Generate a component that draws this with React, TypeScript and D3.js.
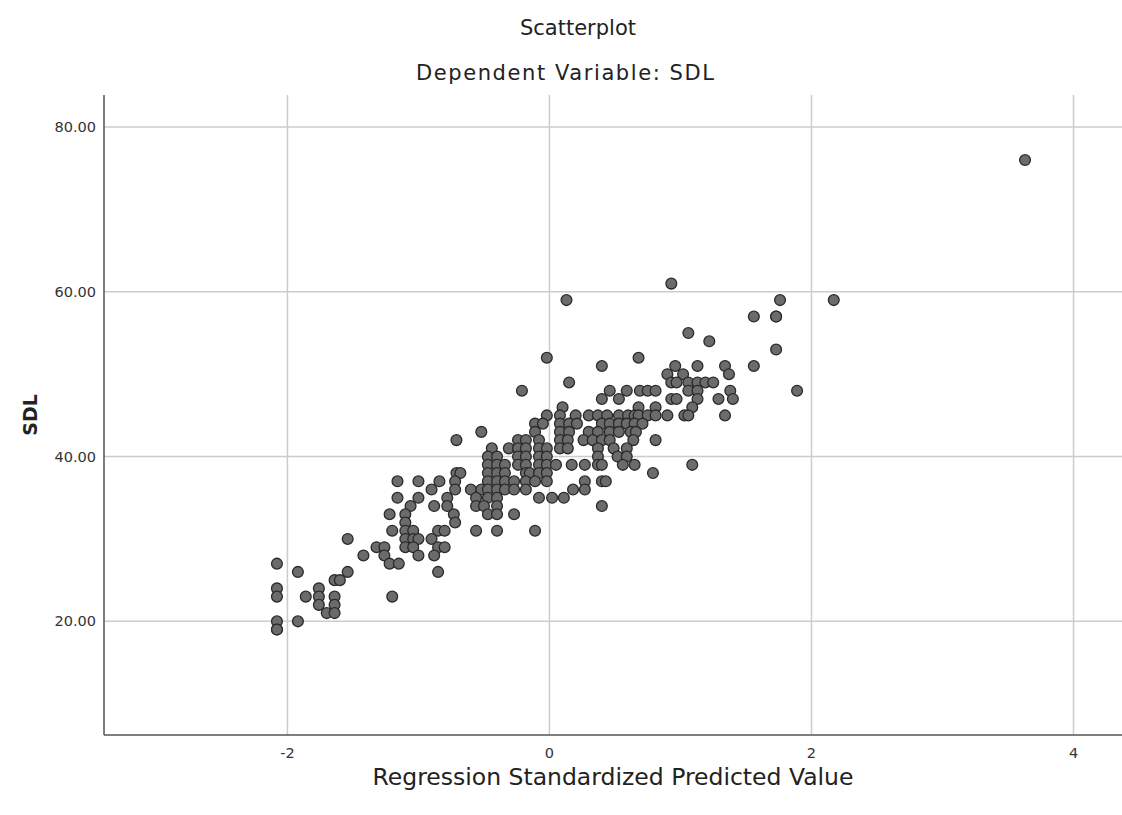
import { useEffect } from 'react';
import * as d3 from 'd3';

const sdlLevels = [76, 61, 59, 57, 55, 54, 53, 52, 51, 50, 49, 48, 47, 46, 45, 44, 43, 42, 41, 40,
  39, 38, 37, 36, 35, 34, 33, 32, 31, 30, 29, 28, 27, 26, 25, 24, 23, 22, 21, 20, 19];

const predictedAtLevel = [
  [3.63],
  [0.93],
  [0.13, 1.76, 2.17],
  [1.56, 1.73, 1.73],
  [1.06],
  [1.22],
  [1.73],
  [-0.02, 0.68],
  [0.40, 0.96, 1.13, 1.34, 1.56],
  [0.90, 1.02, 1.37],
  [0.15, 0.93, 0.97, 1.06, 1.13, 1.19, 1.25],
  [-0.21, 0.46, 0.59, 0.69, 0.75, 0.81, 1.06, 1.13, 1.38, 1.89],
  [0.40, 0.53, 0.93, 0.97, 1.13, 1.29, 1.40],
  [0.10, 0.68, 0.81, 1.09],
  [-0.02, 0.08, 0.20, 0.30, 0.37, 0.44, 0.53, 0.60, 0.65, 0.68, 0.75, 0.81, 0.90, 1.03, 1.06, 1.34],
  [-0.11, -0.05, 0.08, 0.15, 0.21, 0.40, 0.46, 0.53, 0.59, 0.65, 0.71],
  [-0.52, -0.11, 0.08, 0.15, 0.30, 0.37, 0.46, 0.53, 0.62, 0.66],
  [-0.71, -0.24, -0.18, -0.08, 0.08, 0.14, 0.26, 0.33, 0.40, 0.46, 0.64, 0.81],
  [-0.44, -0.31, -0.24, -0.18, -0.08, -0.02, 0.08, 0.14, 0.37, 0.49, 0.59],
  [-0.47, -0.40, -0.24, -0.18, -0.08, -0.02, 0.37, 0.52, 0.59],
  [-0.47, -0.40, -0.34, -0.24, -0.18, -0.08, -0.02, 0.05, 0.17, 0.27, 0.37, 0.40, 0.56, 0.65, 1.09],
  [-0.71, -0.68, -0.47, -0.40, -0.34, -0.18, -0.15, -0.08, -0.02, 0.79],
  [-1.16, -1.00, -0.84, -0.72, -0.47, -0.40, -0.34, -0.27, -0.18, -0.11, -0.02, 0.27, 0.40, 0.43],
  [-0.90, -0.72, -0.60, -0.52, -0.47, -0.40, -0.34, -0.27, -0.18, 0.18, 0.27],
  [-1.16, -1.00, -0.78, -0.56, -0.47, -0.40, -0.08, 0.02, 0.11],
  [-1.06, -0.88, -0.78, -0.56, -0.50, -0.40, 0.40],
  [-1.22, -1.10, -0.73, -0.47, -0.40, -0.27],
  [-1.10, -0.72],
  [-1.20, -1.10, -1.04, -0.85, -0.80, -0.56, -0.40, -0.11],
  [-1.54, -1.10, -1.04, -1.00, -0.90],
  [-1.32, -1.26, -1.10, -1.04, -0.85, -0.80],
  [-1.42, -1.26, -1.00, -0.88],
  [-2.08, -1.22, -1.15],
  [-1.92, -1.54, -0.85],
  [-1.64, -1.60],
  [-2.08, -1.76],
  [-2.08, -1.86, -1.76, -1.64, -1.20],
  [-1.76, -1.64],
  [-1.70, -1.64],
  [-2.08, -1.92],
  [-2.08, -2.08],
];

const xTicks = [-2, 0, 2, 4];
const yTicks = [20, 40, 60, 80];

const W = 1122;
const H = 815;
const FONT = '"DejaVu Sans", sans-serif';

export default function App() {
  useEffect(() => {
    document.body.style.margin = '0';
  }, []);

  const margin = { left: 104, right: 0, top: 95, bottom: 80 };

  const x = d3.scaleLinear().domain([-3.4, 4.37]).range([margin.left, W - margin.right]);
  const y = d3.scaleLinear().domain([6.2, 83.9]).range([H - margin.bottom, margin.top]);

  const points = sdlLevels.flatMap((s, i) => predictedAtLevel[i].map(p => ({ p, s })));

  const [x0, x1] = x.range();
  const [yb, yt] = y.range();

  return (
    <svg width={W} height={H} style={{ display: 'block', background: '#fff' }}>
      {/* titles */}
      <text x={578} y={35} textAnchor="middle" fontFamily={FONT} fontSize={21} fill="#222">Scatterplot</text>
      <text x={565} y={80} textAnchor="middle" fontFamily={FONT} fontSize={21} fill="#222"
        textLength={298} lengthAdjust="spacing">Dependent Variable: SDL</text>

      {/* grid */}
      <g stroke="#cccccc" strokeWidth={1.5}>
        {yTicks.map(t => <line key={'gy' + t} x1={x0} x2={x1} y1={y(t)} y2={y(t)} />)}
        {xTicks.map(t => <line key={'gx' + t} x1={x(t)} x2={x(t)} y1={yb} y2={yt} />)}
      </g>

      {/* axes */}
      <g stroke="#555" strokeWidth={1.5}>
        <line x1={x0} x2={x0} y1={yb} y2={yt} />
        <line x1={x0} x2={x1} y1={yb} y2={yb} />
      </g>

      {/* tick labels */}
      <g fontFamily={FONT} fontSize={14.5} fill="#333">
        {yTicks.map(t => (
          <text key={'ly' + t} x={x0 - 8} y={y(t)} dy="0.35em" textAnchor="end">{d3.format('.2f')(t)}</text>
        ))}
        {xTicks.map(t => (
          <text key={'lx' + t} x={x(t)} y={yb + 23} textAnchor="middle">{t}</text>
        ))}
      </g>

      {/* axis titles */}
      <text x={613} y={785} textAnchor="middle" fontFamily={FONT} fontSize={23.5} fill="#222">
        Regression Standardized Predicted Value
      </text>
      <text transform={`translate(37,${(yb + yt) / 2}) rotate(-90)`} textAnchor="middle"
        fontFamily={FONT} fontSize={19} fontWeight="bold" fill="#222">SDL</text>

      {/* points */}
      <g fill="#6b6b6b" stroke="#2a2a2a" strokeWidth={1.3}>
        {points.map((d, i) => (
          <circle key={i} cx={x(d.p)} cy={y(d.s)} r={5.4} />
        ))}
      </g>
    </svg>
  );
}
